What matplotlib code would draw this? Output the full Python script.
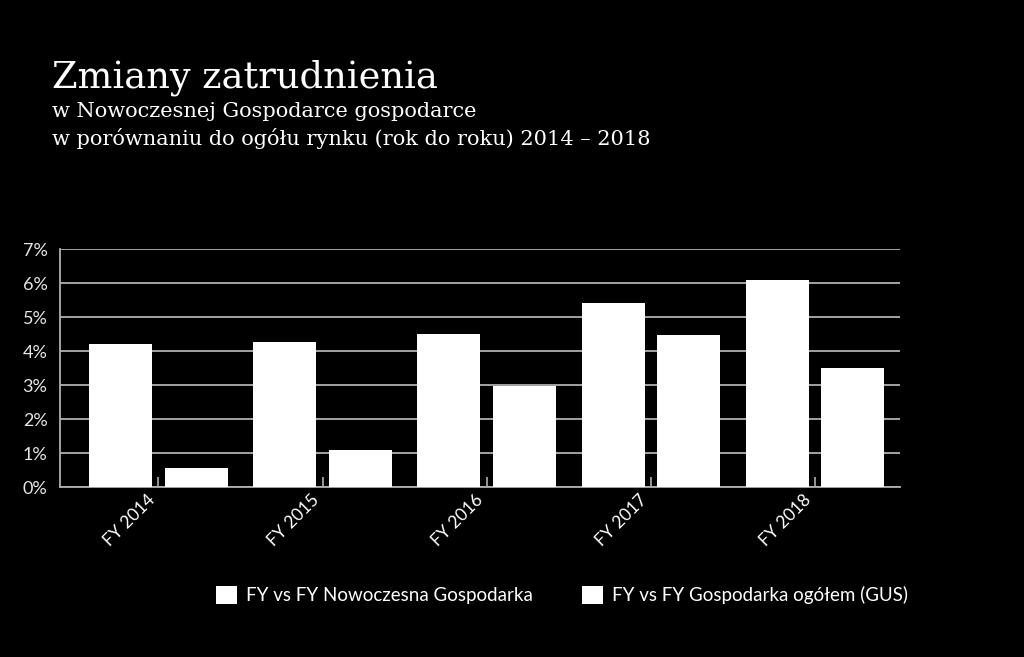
import matplotlib
matplotlib.use("Agg")
import matplotlib.pyplot as plt
import matplotlib.transforms as mtransforms
import numpy as np
from matplotlib.patches import Patch

categories = ["FY 2014", "FY 2015", "FY 2016", "FY 2017", "FY 2018"]
series_names = ["FY vs FY Nowoczesna Gospodarka", "FY vs FY Gospodarka ogółem (GUS)"]
nowoczesna = [4.2, 4.27, 4.5, 5.42, 6.1]
ogolem = [0.55, 1.08, 2.96, 4.48, 3.5]
yticks = [0, 1, 2, 3, 4, 5, 6, 7]
ytick_labels = ["0%", "1%", "2%", "3%", "4%", "5%", "6%", "7%"]

title = "Zmiany zatrudnienia"
subtitle1 = "w Nowoczesnej Gospodarce gospodarce"
subtitle2 = "w porównaniu do ogółu rynku (rok do roku) 2014 – 2018"

bg = "black"
fig = plt.figure(figsize=(10.24, 6.57), dpi=100, facecolor=bg)
ax = fig.add_axes([60/1024, 1-487/657, 840/1024, (487-249)/657], facecolor=bg)

x = np.arange(len(categories))
w = 0.384
off = 0.229
ax.bar(x - off, nowoczesna, width=w, color="white", edgecolor="none", zorder=3)
ax.bar(x + off, ogolem, width=w, color="white", edgecolor="none", zorder=3)

ax.set_xlim(-0.6, 4.52)
ax.set_ylim(0, 7)
ax.set_yticks(yticks)
ax.set_yticklabels(ytick_labels)
ax.yaxis.grid(True, color="#b0b0b0", lw=1.3, zorder=1)
ax.set_axisbelow(True)
for s in ["top", "right"]:
    ax.spines[s].set_visible(False)
for s in ["left", "bottom"]:
    ax.spines[s].set_color("#b0b0b0")
    ax.spines[s].set_linewidth(1.3)
ax.tick_params(axis="y", length=0, labelcolor="#e6e6e6", labelsize=13, pad=9)
ax.set_xticks(x)
ax.set_xticklabels(categories, rotation=45, ha="right", va="center", rotation_mode="anchor",
                   color="white", fontsize=12.5, fontfamily="Lato")
ax.tick_params(axis="x", direction="in", length=7, color="#b0b0b0", width=1.2, pad=9)
shift = mtransforms.ScaledTranslation(-6/100, 2/100, fig.dpi_scale_trans)
for lbl in ax.get_xticklabels():
    lbl.set_transform(lbl.get_transform() + shift)
for lbl in ax.get_yticklabels():
    lbl.set_fontfamily("Lato")

fig.text(52/1024, 1-88/657, title, color="white", fontsize=26.5, fontfamily="DejaVu Serif",
         va="baseline")
fig.text(52/1024, 1-117/657, subtitle1, color="white", fontsize=15, fontfamily="DejaVu Serif",
         va="baseline")
fig.text(52/1024, 1-145/657, subtitle2, color="white", fontsize=15, fontfamily="DejaVu Serif",
         va="baseline")

handles = [Patch(facecolor="white", edgecolor="none"), Patch(facecolor="white", edgecolor="none")]
leg = fig.legend(handles, series_names, loc="center", bbox_to_anchor=(562/1024, 1-595/657),
                 ncol=2, frameon=False, handlelength=1.12, handleheight=1.12,
                 columnspacing=2.6, handletextpad=0.5, prop={"family": "Lato", "size": 13.5})
for t in leg.get_texts():
    t.set_color("white")

fig.savefig("out.png", dpi=100, facecolor=bg)
